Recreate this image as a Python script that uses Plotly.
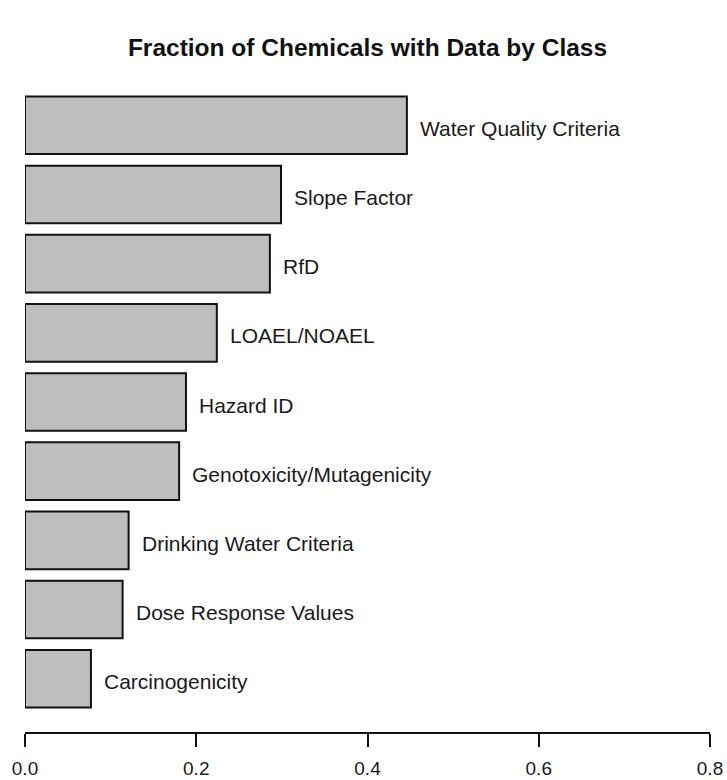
import plotly.graph_objects as go

categories = [
    "Carcinogenicity",
    "Dose Response Values",
    "Drinking Water Criteria",
    "Genotoxicity/Mutagenicity",
    "Hazard ID",
    "LOAEL/NOAEL",
    "RfD",
    "Slope Factor",
    "Water Quality Criteria",
]
fractions = [0.077, 0.114, 0.121, 0.180, 0.188, 0.224, 0.286, 0.299, 0.446]
x_ticks = [0.0, 0.2, 0.4, 0.6, 0.8]
x_tick_labels = ["0.0", "0.2", "0.4", "0.6", "0.8"]

FONT = "Liberation Sans, Arial, Helvetica, sans-serif"

fig = go.Figure()
fig.add_trace(go.Bar(
    x=fractions,
    y=categories,
    orientation="h",
    marker=dict(color="#BEBEBE", line=dict(color="#111111", width=2)),
    hoverinfo="x+y",
    showlegend=False,
))

for c, v in zip(categories, fractions):
    fig.add_annotation(
        x=v, y=c, xref="x", yref="y",
        text=c, showarrow=False,
        xanchor="left", yanchor="middle",
        xshift=11, yshift=-3,
        font=dict(family=FONT, size=21, color="#1a1a1a"),
    )

fig.update_layout(
    width=727, height=780,
    margin=dict(l=25, r=17, t=72, b=48, autoexpand=False),
    paper_bgcolor="white", plot_bgcolor="white",
    bargap=1 - 1 / 1.2,
    title=dict(
        text="<b>Fraction of Chemicals with Data by Class</b>",
        x=0.5, xref="paper", xanchor="center",
        y=1 - 47 / 780, yref="container", yanchor="middle",
        font=dict(family=FONT, size=24.5, color="#111111"),
    ),
    xaxis=dict(
        range=[0, 0.8],
        automargin=False,
        tickvals=x_ticks, ticktext=x_tick_labels,
        showgrid=False, zeroline=False,
        showline=True, linecolor="#111111", linewidth=1.5,
        ticks="outside", ticklen=13, tickwidth=1.5, tickcolor="#111111",
        tickfont=dict(family=FONT, size=19, color="#1a1a1a"),
        ticklabelstandoff=5,
    ),
    yaxis=dict(
        type="category",
        automargin=False,
        categoryorder="array", categoryarray=categories,
        range=[-0.77, 8.77],
        showgrid=False, zeroline=False, showline=False,
        showticklabels=False, ticks="",
    ),
)

fig.write_html(
    "out.html",
    config={"displayModeBar": False},
    post_script="document.body.style.margin='0';document.body.style.overflow='hidden';",
)
